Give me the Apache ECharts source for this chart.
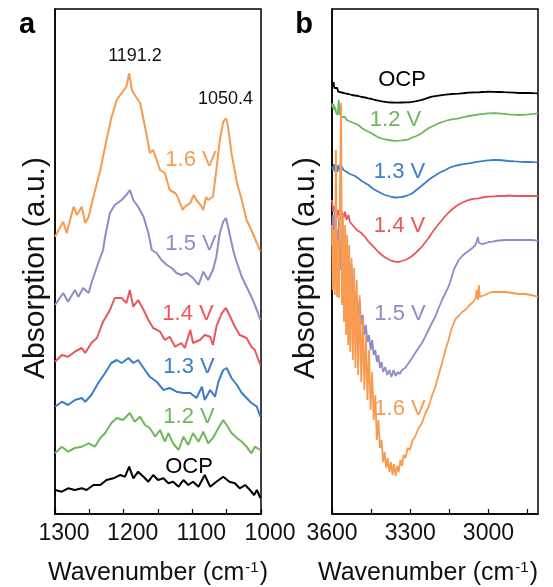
<!DOCTYPE html>
<html>
<head>
<meta charset="utf-8">
<script src="https://cdn.jsdelivr.net/npm/echarts@6/dist/echarts.min.js"></script>
<style>html,body{margin:0;padding:0;background:#fff}#c{width:553px;height:587px}</style>
</head>
<body>
<div id="c"></div>
<script>
// ---------- Panel a: 1300-1000 cm-1, [wavenumber, absorbance (a.u., offset)] ----------
const a_16 = [[1300,27.73],[1288,29.23],[1283,28.1],[1273,30.73],[1268,29.9],[1261,30.73],[1256,29.1],[1251,29.73],[1244,31.73],[1234,34.4],[1225,37.4],[1218,39.6],[1210,41.4],[1203,42.1],[1196,42.73],[1192,44.07],[1188,42.4],[1181,41.6],[1176,41.1],[1166,37.73],[1162,36.1],[1157,36.4],[1152,35.4],[1147,34.4],[1140,34.1],[1133,32.4],[1125,32.1],[1122,31.8],[1118,31.1],[1114,30.4],[1111,30.73],[1103,31.1],[1098,31.9],[1094,31.4],[1088,30.9],[1084,30.4],[1080,31.7],[1077,31.4],[1070,31.73],[1065,34.4],[1060,37.4],[1055,39.23],[1051,39.57],[1048,38.73],[1043,36.1],[1035,33.1],[1028,31.4],[1021,29.4],[1014,28.4],[1006,27.1],[1001,26.23]];
const a_15 = [[1300,20.9],[1288,22.1],[1281,21.23],[1271,22.4],[1266,21.73],[1259,22.6],[1251,22.1],[1247,23.1],[1237,25.1],[1230,26.4],[1227,27.73],[1220,30.1],[1213,30.9],[1203,31.4],[1196,31.9],[1191,32.4],[1186,31.4],[1179,30.73],[1171,29.73],[1164,28.1],[1159,26.4],[1152,26.1],[1145,25.4],[1137,24.9],[1130,24.6],[1123,24.1],[1116,23.9],[1108,24.1],[1099,23.6],[1091,22.9],[1084,24.23],[1077,23.4],[1070,24.4],[1065,25.73],[1060,28.1],[1055,29.23],[1051,29.6],[1046,28.1],[1040,26.23],[1035,25.1],[1028,23.73],[1021,22.73],[1014,21.73],[1006,20.4],[1001,19.4]];
const a_14 = [[1300,15.23],[1290,15.9],[1281,15.73],[1271,16.23],[1261,16.6],[1256,16.1],[1247,17.1],[1239,17.6],[1230,19.23],[1220,20.4],[1213,21.6],[1203,21.6],[1196,21.1],[1191,22.4],[1186,20.73],[1179,21.4],[1171,20.4],[1164,19.4],[1157,18.6],[1147,18.23],[1140,17.4],[1133,17.73],[1125,16.73],[1116,17.1],[1111,16.6],[1103,18.4],[1099,17.1],[1089,17.4],[1082,17.9],[1074,17.73],[1070,16.9],[1065,18.73],[1057,20.1],[1051,20.6],[1046,19.9],[1038,18.73],[1031,17.9],[1021,17.6],[1014,16.73],[1009,16.4],[1001,14.9]];
const a_13 = [[1300,10.73],[1290,11.23],[1281,10.9],[1271,11.4],[1261,11.6],[1256,11.23],[1247,11.9],[1237,13.1],[1227,14.1],[1218,15.1],[1210,15.4],[1203,15.1],[1193,15.6],[1186,15.1],[1179,15.4],[1169,14.4],[1162,13.73],[1152,13.23],[1142,12.4],[1133,12.6],[1123,12.23],[1113,12.1],[1103,12.1],[1094,11.6],[1086,12.73],[1082,11.4],[1074,12.4],[1067,11.73],[1062,13.23],[1055,14.4],[1050,14.6],[1043,13.6],[1035,12.9],[1028,12.1],[1021,11.6],[1014,11.1],[1006,10.73],[1001,9.73]];
const a_12 = [[1300,6.07],[1290,6.73],[1281,6.23],[1271,6.6],[1261,6.73],[1251,7.07],[1242,6.73],[1234,7.6],[1227,8.1],[1218,9.1],[1210,9.6],[1201,9.4],[1191,10.1],[1184,9.23],[1176,9.73],[1169,8.9],[1162,8.6],[1154,7.73],[1147,8.4],[1140,7.23],[1135,8.1],[1128,7.07],[1120,6.4],[1113,7.73],[1106,6.9],[1099,8.1],[1091,7.23],[1084,8.23],[1077,7.07],[1070,7.6],[1062,8.6],[1055,9.4],[1050,8.9],[1043,8.1],[1035,7.6],[1028,7.23],[1021,6.73],[1014,6.07],[1009,6.73],[1001,6.4]];
const a_OCP = [[1300,2.4],[1290,2.23],[1281,2.57],[1271,2.4],[1261,2.57],[1254,2.4],[1244,2.9],[1234,2.9],[1225,3.4],[1215,3.57],[1205,3.9],[1198,3.73],[1192,4.73],[1186,3.57],[1179,4.23],[1171,3.73],[1164,3.23],[1157,3.9],[1150,3.4],[1142,3.57],[1135,3.07],[1128,3.23],[1120,2.73],[1113,3.4],[1106,2.9],[1099,3.23],[1091,2.73],[1082,3.9],[1074,2.73],[1065,3.23],[1055,3.73],[1046,3.23],[1038,3.07],[1031,2.57],[1023,2.9],[1016,2.4],[1010,1.9],[1006,2.4],[1001,1.6]];

// ---------- Panel b: 3600-2810 cm-1 ----------
const b_16 = [[3600,28.9],[3597,22.4],[3593,28.4],[3589,21.9],[3585,36.4],[3581,21.7],[3577,27.4],[3573,21.6],[3569,33.4],[3565,41.1],[3562,20.9],[3558,29.9],[3554,19.2],[3550,28.9],[3546,17.9],[3542,27.9],[3538,16.9],[3534,26.9],[3530,16.2],[3525,25.6],[3520,15.4],[3515,24.6],[3510,14.6],[3505,23.4],[3500,13.9],[3494,21.9],[3488,13.2],[3482,19.6],[3476,12.4],[3470,17.9],[3464,11.4],[3458,16.4],[3452,10.4],[3446,14.2],[3440,9.4],[3434,11.9],[3428,7.4],[3422,9.4],[3416,6.6],[3410,7.4],[3404,5.2],[3398,6.2],[3392,4.6],[3386,5.6],[3380,4.2],[3374,5.2],[3368,3.9],[3362,5.0],[3356,3.8],[3350,4.8],[3344,4.2],[3338,5.4],[3332,4.8],[3325,5.9],[3318,5.6],[3310,6.6],[3302,6.4],[3290,7.4],[3280,7.8],[3268,8.6],[3255,9.1],[3243,10.0],[3230,10.7],[3217,11.8],[3204,12.7],[3191,13.9],[3178,15.1],[3165,16.4],[3153,17.4],[3143,18.4],[3133,19.1],[3124,19.6],[3114,19.8],[3101,20.2],[3089,20.4],[3076,20.8],[3063,21.1],[3050,21.5],[3045,22.4],[3040,21.4],[3037,22.9],[3033,21.7],[3025,21.8],[3012,21.9],[2999,22.1],[2986,22.2],[2960,22.2],[2935,22.2],[2909,22.1],[2883,22.0],[2858,22.0],[2838,21.9],[2810,21.73]];
const b_15 = [[3600,26.9],[3597,29.9],[3593,25.9],[3589,30.7],[3585,25.4],[3581,28.4],[3577,24.9],[3573,29.7],[3569,24.4],[3565,27.4],[3561,23.9],[3557,28.4],[3553,23.4],[3549,26.7],[3545,23.1],[3541,25.9],[3537,22.6],[3533,25.2],[3529,22.2],[3525,24.9],[3520,21.4],[3515,22.9],[3510,20.9],[3505,21.9],[3500,19.9],[3494,21.4],[3488,18.9],[3482,19.9],[3476,17.9],[3470,18.9],[3464,17.2],[3458,17.9],[3452,16.4],[3446,17.4],[3440,15.9],[3434,16.4],[3428,15.2],[3422,15.9],[3416,14.6],[3410,15.2],[3404,14.2],[3396,14.7],[3388,13.9],[3380,14.4],[3372,13.7],[3364,14.4],[3356,13.8],[3348,14.2],[3340,14.0],[3332,14.4],[3320,14.6],[3306,15.1],[3293,15.6],[3281,16.1],[3268,16.6],[3255,17.1],[3243,17.7],[3230,18.4],[3217,19.1],[3204,19.73],[3191,20.6],[3178,21.4],[3165,22.1],[3153,22.73],[3143,23.5],[3133,24.4],[3124,24.9],[3114,25.4],[3101,25.8],[3089,26.07],[3076,26.3],[3063,26.57],[3050,26.9],[3040,27.7],[3037,27.1],[3030,27.3],[3024,27.0],[3012,27.07],[2999,27.2],[2986,27.23],[2960,27.35],[2935,27.4],[2909,27.4],[2883,27.4],[2858,27.4],[2838,27.4],[2810,27.33]];
const b_14 = [[3600,31.4],[3596,30.2],[3592,30.8],[3588,30.0],[3584,30.5],[3580,29.7],[3575,30.4],[3569,29.73],[3562,30.2],[3556,29.6],[3550,30.23],[3544,29.4],[3537,29.9],[3531,29.2],[3524,29.4],[3518,28.8],[3512,28.73],[3505,28.4],[3499,28.3],[3486,28.07],[3473,27.7],[3460,27.23],[3447,26.9],[3435,26.57],[3422,26.2],[3409,25.9],[3396,25.65],[3383,25.47],[3370,25.3],[3358,25.23],[3345,25.2],[3332,25.3],[3319,25.4],[3306,25.57],[3293,25.8],[3281,26.07],[3268,26.4],[3255,26.73],[3243,27.15],[3230,27.57],[3217,28.1],[3204,28.57],[3191,29.0],[3178,29.4],[3165,29.8],[3153,30.13],[3140,30.45],[3127,30.73],[3114,30.95],[3101,31.13],[3089,31.27],[3076,31.4],[3063,31.48],[3050,31.54],[3037,31.57],[3024,31.65],[3012,31.7],[2999,31.73],[2980,31.77],[2960,31.8],[2935,31.8],[2922,31.85],[2900,31.8],[2883,31.8],[2860,31.8],[2845,31.8],[2825,31.8],[2810,31.8]];
const b_13 = [[3600,34.73],[3596,34.4],[3592,35.0],[3588,34.2],[3584,34.8],[3580,34.2],[3575,34.9],[3569,34.23],[3562,34.7],[3556,34.4],[3550,34.57],[3543,34.2],[3537,34.4],[3531,34.0],[3524,34.07],[3512,33.8],[3499,33.57],[3486,33.3],[3473,33.1],[3460,32.9],[3447,32.6],[3435,32.4],[3422,32.23],[3409,32.05],[3396,31.9],[3383,31.8],[3370,31.7],[3358,31.65],[3345,31.67],[3332,31.7],[3319,31.78],[3306,31.9],[3293,32.05],[3281,32.3],[3268,32.57],[3255,32.85],[3243,33.1],[3230,33.4],[3217,33.65],[3204,33.85],[3191,34.07],[3178,34.25],[3165,34.4],[3153,34.57],[3140,34.72],[3127,34.82],[3114,34.9],[3101,34.97],[3089,35.02],[3076,35.07],[3063,35.12],[3050,35.18],[3037,35.23],[3024,35.28],[3012,35.33],[2999,35.37],[2980,35.4],[2960,35.4],[2940,35.35],[2922,35.3],[2900,35.26],[2883,35.23],[2860,35.2],[2845,35.2],[2825,35.18],[2810,35.17]];
const b_12 = [[3600,41.07],[3597,40.6],[3594,41.0],[3591,40.4],[3588,40.7],[3585,40.2],[3582,40.4],[3578,39.9],[3574,41.4],[3570,40.0],[3566,40.2],[3562,39.7],[3556,39.57],[3550,39.7],[3543,39.4],[3537,39.5],[3531,39.25],[3524,39.23],[3512,39.05],[3499,38.9],[3486,38.6],[3473,38.4],[3460,38.23],[3447,38.05],[3435,37.85],[3422,37.67],[3409,37.55],[3396,37.46],[3383,37.4],[3370,37.35],[3358,37.32],[3345,37.33],[3332,37.36],[3319,37.4],[3306,37.47],[3293,37.65],[3281,37.75],[3268,37.9],[3255,38.1],[3243,38.35],[3230,38.57],[3217,38.75],[3204,38.9],[3191,39.07],[3178,39.2],[3165,39.3],[3153,39.4],[3140,39.47],[3127,39.52],[3114,39.57],[3101,39.67],[3089,39.72],[3076,39.8],[3063,39.85],[3050,39.9],[3037,39.97],[3024,40.0],[3012,40.03],[2999,40.07],[2980,40.08],[2960,40.07],[2940,40.02],[2922,39.97],[2900,39.93],[2883,39.9],[2860,39.94],[2845,39.97],[2825,40.02],[2810,40.07]];
const b_OCP = [[3600,43.4],[3597,42.8],[3594,43.2],[3591,42.6],[3588,42.73],[3584,42.5],[3580,42.6],[3576,42.23],[3570,42.3],[3563,42.15],[3556,42.2],[3550,42.07],[3537,42.0],[3524,41.9],[3512,41.85],[3499,41.8],[3486,41.7],[3473,41.65],[3460,41.57],[3447,41.5],[3435,41.4],[3422,41.33],[3409,41.27],[3396,41.22],[3383,41.17],[3370,41.15],[3358,41.13],[3345,41.13],[3332,41.15],[3319,41.16],[3306,41.17],[3293,41.22],[3281,41.27],[3268,41.33],[3255,41.42],[3243,41.52],[3230,41.63],[3217,41.73],[3204,41.78],[3191,41.83],[3178,41.88],[3165,41.93],[3153,41.97],[3140,42.0],[3127,42.02],[3114,42.03],[3101,42.07],[3089,42.1],[3076,42.13],[3063,42.15],[3050,42.16],[3037,42.17],[3024,42.2],[3012,42.22],[2999,42.23],[2980,42.22],[2960,42.2],[2940,42.18],[2922,42.17],[2900,42.14],[2883,42.1],[2860,42.1],[2845,42.1],[2825,42.08],[2810,42.07]];

// ---------- Tick labels / names ----------
const ticksA = [1300, 1250, 1200, 1150, 1100, 1050, 1000];
const labelsA = [1300, 1200, 1100, 1000];
const ticksB = [3600, 3450, 3300, 3150, 3000, 2850];
const labelsB = [3600, 3300, 3000];
const seriesNames = ['OCP', '1.2 V', '1.3 V', '1.4 V', '1.5 V', '1.6 V'];
const colors = ['#000000', '#6DB85A', '#3A7DC9', '#E8585A', '#8C8CC8', '#F89A4F'];
const peakLabels = ['1191.2', '1050.4'];

const FONT = '"Liberation Sans", Arial, Helvetica, sans-serif';
const chart = echarts.init(document.getElementById('c'), null, {renderer: 'canvas'});

function xAxisCfg(grid, min, max, ticks, labels, pad) {
  return {
    type: 'value', gridIndex: grid, min: min, max: max, inverse: true,
    axisLine: {show: true, onZero: false, lineStyle: {color: '#000', width: 1.5}},
    axisTick: {show: true, inside: true, length: 5, customValues: ticks, lineStyle: {color: '#000', width: 1.2}},
    axisLabel: {show: true, customValues: labels, formatter: (v) => String(v), fontSize: 23, fontFamily: FONT, color: '#111', margin: 8, padding: pad},
    splitLine: {show: false}
  };
}
function yAxisCfg(grid) {
  return {type: 'value', gridIndex: grid, min: 0, max: 50.5,
    axisLine: {show: true, onZero: false, lineStyle: {color: '#000', width: 1.5}},
    axisTick: {show: false}, axisLabel: {show: false}, splitLine: {show: false}};
}
const dataA = [a_OCP, a_12, a_13, a_14, a_15, a_16];
const dataB = [b_OCP, b_12, b_13, b_14, b_15, b_16];
const series = [];
dataA.forEach((d, i) => series.push({name: 'a ' + seriesNames[i], type: 'line', xAxisIndex: 0, yAxisIndex: 0, data: d, showSymbol: false, symbol: 'none', lineStyle: {color: colors[i], width: 2}, itemStyle: {color: colors[i]}, z: 2 + i}));
dataB.forEach((d, i) => series.push({name: 'b ' + seriesNames[i], type: 'line', xAxisIndex: 1, yAxisIndex: 1, data: d, showSymbol: false, symbol: 'none', lineStyle: {color: colors[i], width: 1.8}, itemStyle: {color: colors[i]}, z: 2 + i}));

function txt(x, y, text, size, color, extra) {
  return Object.assign({type: 'text', x: x, y: y, z: 100, style: {text: text, fontSize: size, fontFamily: FONT, fill: color, align: 'center', verticalAlign: 'middle', textAlign: 'center', textVerticalAlign: 'middle'}}, extra || {});
}
const xName = (x) => ({type: 'text', x: x, y: 573, z: 100, style: {text: '{m|Wavenumber (cm}{s|-1}{m|)}', fill: '#111', align: 'center', verticalAlign: 'middle', textAlign: 'center', textVerticalAlign: 'middle', rich: {m: {fontSize: 25, fontFamily: FONT, fill: '#111', lineHeight: 26}, s: {fontSize: 15, fontFamily: FONT, fill: '#111', verticalAlign: 'top', lineHeight: 11, padding: [0, 1, 0, 1]}}}});
const yName = (x) => Object.assign(txt(x, 268, 'Absorption (a.u.)', 30, '#111'), {rotation: Math.PI / 2});

const labA = [[189, 466.5], [189, 416.5], [189, 366.5], [188, 313.5], [191, 243.5], [191, 160]];
const labB = [[402, 80], [395.5, 120], [399.5, 171.5], [399.5, 226], [400, 314], [400, 409]];
const graphics = [
  txt(27, 25, 'a', 29, '#000', {style: {text: 'a', fontSize: 29, fontWeight: 'bold', fontFamily: FONT, fill: '#000', align: 'center', verticalAlign: 'middle'}}),
  txt(304, 25, 'b', 29, '#000', {style: {text: 'b', fontSize: 29, fontWeight: 'bold', fontFamily: FONT, fill: '#000', align: 'center', verticalAlign: 'middle'}}),
  txt(135, 56, peakLabels[0], 18, '#111'),
  txt(225.5, 99, peakLabels[1], 18, '#111'),
  xName(158), xName(428),
  yName(36), yName(306)
];
seriesNames.forEach((n, i) => {
  graphics.push(txt(labA[i][0], labA[i][1], n, 22, colors[i]));
  graphics.push(txt(labB[i][0], labB[i][1], n, 22, colors[i]));
});

chart.setOption({
  animation: false,
  backgroundColor: '#fff',
  grid: [
    {left: 55, top: 9, width: 206, height: 505, show: true, borderColor: '#000', borderWidth: 1.5, backgroundColor: 'transparent'},
    {left: 332, top: 9, width: 206, height: 505, show: true, borderColor: '#000', borderWidth: 1.5, backgroundColor: 'transparent'}
  ],
  xAxis: [xAxisCfg(0, 1000, 1300, ticksA, labelsA, [0, 0, 0, 18]), xAxisCfg(1, 2810, 3600, ticksB, labelsB, 0)],
  yAxis: [yAxisCfg(0), yAxisCfg(1)],
  series: series,
  graphic: graphics
});
</script>
</body>
</html>
